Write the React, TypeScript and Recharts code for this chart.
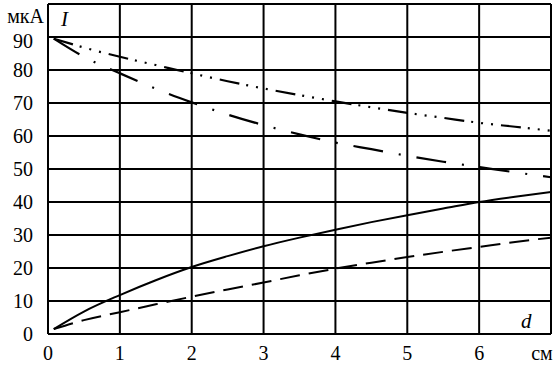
import React from 'react';
import { LineChart, Line, XAxis, YAxis, CartesianGrid } from 'recharts';

const xTicks = [0, 1, 2, 3, 4, 5, 6, 7];
const yTicks = [0, 10, 20, 30, 40, 50, 60, 70, 80, 90, 100];
const xUnit = 'см';
const yUnit = 'мкА';

// solid rising curve
const solidX = [0.08, 0.5, 1, 1.5, 2, 2.5, 3, 3.5, 4, 4.5, 5, 5.5, 6, 6.5, 7];
const solidY = [1.5, 6.8, 11.8, 16.3, 20.3, 23.6, 26.6, 29.2, 31.6, 33.9, 36, 38, 40, 41.6, 43];
// dashed rising curve
const dashX = [0.08, 0.5, 1, 1.5, 2, 2.5, 3, 3.5, 4, 4.5, 5, 5.5, 6, 6.5, 7];
const dashY = [1.5, 4.2, 6.6, 9, 11.3, 13.5, 15.6, 17.8, 19.8, 21.6, 23.3, 24.9, 26.4, 27.9, 29.2];
// steeper falling curve (dash-dot)
const fallAX = [0.08, 0.5, 1, 1.5, 2, 2.5, 3, 3.5, 4, 4.5, 5, 5.5, 6, 6.5, 7];
const fallAY = [89.5, 84, 79, 74.3, 70.2, 66.5, 63.3, 60.5, 58, 56, 54, 52.2, 50.6, 49, 47.5];
// gentler falling curve (dash-dot-dot-dot)
const fallBX = [0.08, 0.5, 1, 1.5, 2, 2.5, 3, 3.5, 4, 4.5, 5, 5.5, 6, 6.5, 7];
const fallBY = [89.5, 86.8, 84, 81.5, 79, 76.6, 74.4, 72.4, 70.5, 68.7, 67, 65.5, 64, 62.8, 61.6];

const toRows = (xs: number[], ys: number[]) => xs.map((x, i) => ({ x, y: ys[i] }));

const FONT = "'Liberation Serif', 'Times New Roman', serif";

const YTick = (props: any) => {
  const { x, y, payload } = props;
  const v = payload.value;
  if (v === 100) {
    return (
      <text x={44} y={y + 14} textAnchor="end" fontFamily={FONT} fontSize={20} fill="#000">
        {yUnit}
      </text>
    );
  }
  return (
    <text x={x} y={y + 7 + (v === 90 ? 4 : 0)} textAnchor="end" fontFamily={FONT} fontSize={20} fill="#000">
      {v}
    </text>
  );
};

const XTick = (props: any) => {
  const { x, y, payload } = props;
  const v = payload.value;
  if (v === 7) {
    return (
      <text x={x - 9} y={y + 26} textAnchor="middle" fontFamily={FONT} fontSize={20} fill="#000">
        {xUnit}
      </text>
    );
  }
  return (
    <text x={x} y={y + 26} textAnchor="middle" fontFamily={FONT} fontSize={20} fill="#000">
      {v}
    </text>
  );
};

export default function App() {
  return (
    <div style={{ position: 'absolute', left: 0, top: 0, width: 555, height: 365, background: '#fff' }}>
      <LineChart
        width={555}
        height={365}
        margin={{ top: 4, right: 4, bottom: 0, left: 0 }}
      >
        <CartesianGrid stroke="#000" strokeWidth={2} />
        <XAxis
          type="number"
          dataKey="x"
          domain={[0, 7]}
          ticks={xTicks}
          allowDataOverflow
          height={31}
          tickSize={0}
          tickMargin={0}
          tick={<XTick />}
          axisLine={{ stroke: '#000', strokeWidth: 2 }}
        />
        <YAxis
          type="number"
          dataKey="y"
          domain={[0, 100]}
          ticks={yTicks}
          width={48}
          tickSize={0}
          tickMargin={15}
          tick={<YTick />}
          axisLine={{ stroke: '#000', strokeWidth: 2 }}
        />
        <Line data={toRows(solidX, solidY)} dataKey="y" type="monotone" stroke="#000" strokeWidth={2} dot={false} isAnimationActive={false} />
        <Line data={toRows(dashX, dashY)} dataKey="y" type="monotone" stroke="#000" strokeWidth={2} strokeDasharray="20 9" dot={false} isAnimationActive={false} />
        <Line data={toRows(fallAX, fallAY)} dataKey="y" type="monotone" stroke="#000" strokeWidth={2.2} strokeDasharray="30 16 2 16" dot={false} isAnimationActive={false} />
        <Line data={toRows(fallBX, fallBY)} dataKey="y" type="monotone" stroke="#000" strokeWidth={2.2} strokeDasharray="20 7 2 8 2 8 2 8" dot={false} isAnimationActive={false} />
      </LineChart>
      <svg width={555} height={365} style={{ position: 'absolute', left: 0, top: 0, pointerEvents: 'none' }}>
        <text x={61} y={26} fontFamily={FONT} fontSize={21} fontStyle="italic" fill="#000">I</text>
        <text x={521} y={328} fontFamily={FONT} fontSize={21} fontStyle="italic" fill="#000">d</text>
      </svg>
    </div>
  );
}
